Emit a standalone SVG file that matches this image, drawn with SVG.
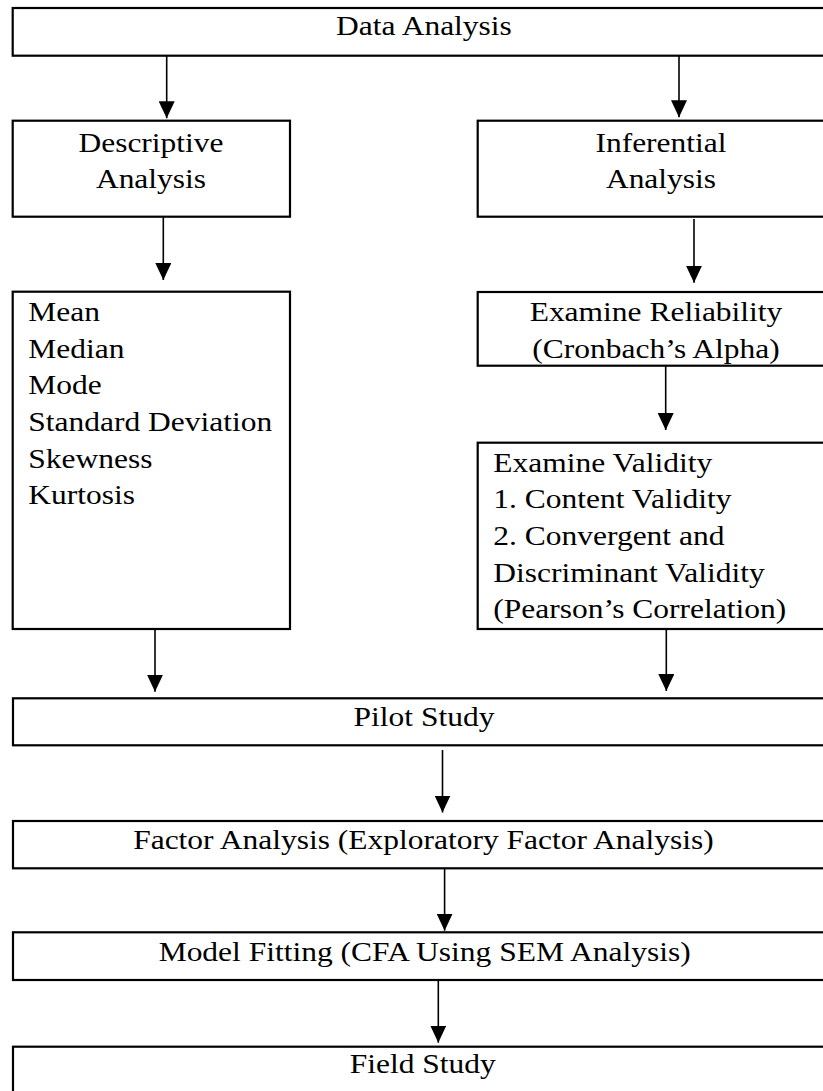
<svg xmlns="http://www.w3.org/2000/svg" width="823" height="1091" viewBox="0 0 823 1091">
<style>
.box{fill:#fff;stroke:#000;stroke-width:2.2}
.t{font-family:"Liberation Serif","Times New Roman",serif;font-size:31.5px;fill:#000}
.c{text-anchor:middle}
.edge{stroke:#000;stroke-width:1.6;fill:none;marker-end:url(#ah)}
</style>
<defs>
<marker id="ah" markerUnits="userSpaceOnUse" markerWidth="16" markerHeight="17" refX="8" refY="17" orient="0" viewBox="0 0 16 17">
<path d="M0,0 L16,0 L8,17 Z" fill="#000"/>
</marker>
</defs>
<rect width="823" height="1091" fill="#fff"/>
<g id="connectors">
<line class="edge" x1="166.7" y1="56" x2="166.7" y2="118.3"/>
<line class="edge" x1="679" y1="56" x2="679" y2="117.3"/>
<line class="edge" x1="163.3" y1="217" x2="163.3" y2="280"/>
<line class="edge" x1="694" y1="219" x2="694" y2="282.7"/>
<line class="edge" x1="665.7" y1="366" x2="665.7" y2="430"/>
<line class="edge" x1="155" y1="629" x2="155" y2="691.7"/>
<line class="edge" x1="666.3" y1="629" x2="666.3" y2="691"/>
<line class="edge" x1="442.5" y1="750" x2="442.5" y2="812.5"/>
<line class="edge" x1="444.6" y1="868.5" x2="444.6" y2="930.7"/>
<line class="edge" x1="438.3" y1="980" x2="438.3" y2="1042.7"/>
</g>
<g id="data-analysis">
<rect class="box" x="12.7" y="8" width="830" height="47.7"/>
<text class="t c" transform="scale(1 0.9)" x="424" y="38.889">Data Analysis</text>
</g>
<g id="descriptive">
<rect class="box" x="12.7" y="120.7" width="277.3" height="96"/>
<text class="t c" transform="scale(1 0.9)"><tspan x="151" y="168.889">Descriptive</tspan><tspan x="151" y="209.444">Analysis</tspan></text>
</g>
<g id="inferential">
<rect class="box" x="477.7" y="120.7" width="360" height="96"/>
<text class="t c" transform="scale(1 0.9)"><tspan x="661" y="168.889">Inferential</tspan><tspan x="661" y="209.444">Analysis</tspan></text>
</g>
<g id="descriptive-measures">
<rect class="box" x="12.7" y="291.7" width="277.3" height="337.3"/>
<text class="t" transform="scale(1 0.9)"><tspan x="28.3" y="356.667">Mean</tspan><tspan x="28.3" y="397.444">Median</tspan><tspan x="28.3" y="438.222">Mode</tspan><tspan x="28.3" y="478.889">Standard Deviation</tspan><tspan x="28.3" y="519.778">Skewness</tspan><tspan x="28.3" y="560.556">Kurtosis</tspan></text>
</g>
<g id="reliability">
<rect class="box" x="477.7" y="292" width="360" height="73.7"/>
<text class="t c" transform="scale(1 0.9)"><tspan x="656" y="356.667">Examine Reliability</tspan><tspan x="656" y="397.444">(Cronbach’s Alpha)</tspan></text>
</g>
<g id="validity">
<rect class="box" x="477.7" y="442.7" width="360" height="186.3"/>
<text class="t" transform="scale(1 0.9)"><tspan x="493.3" y="524.111">Examine Validity</tspan><tspan x="493.3" y="564.889">1. Content Validity</tspan><tspan x="493.3" y="605.556">2. Convergent and</tspan><tspan x="493.3" y="646.444">Discriminant Validity</tspan><tspan x="493.3" y="687.222">(Pearson’s Correlation)</tspan></text>
</g>
<g id="pilot-study">
<rect class="box" x="13" y="698.3" width="830" height="47"/>
<text class="t c" transform="scale(1 0.9)" x="424" y="806.667">Pilot Study</text>
</g>
<g id="factor-analysis">
<rect class="box" x="13" y="821" width="830" height="47.3"/>
<text class="t c" transform="scale(1 0.9)" x="423.5" y="943.667">Factor Analysis (Exploratory Factor Analysis)</text>
</g>
<g id="model-fitting">
<rect class="box" x="13" y="932.3" width="830" height="47.7"/>
<text class="t c" transform="scale(1 0.9)" x="424.7" y="1067.778">Model Fitting (CFA Using SEM Analysis)</text>
</g>
<g id="field-study">
<rect class="box" x="13" y="1046.7" width="830" height="60"/>
<text class="t c" transform="scale(1 0.9)" x="422.7" y="1192.222">Field Study</text>
</g>
</svg>
